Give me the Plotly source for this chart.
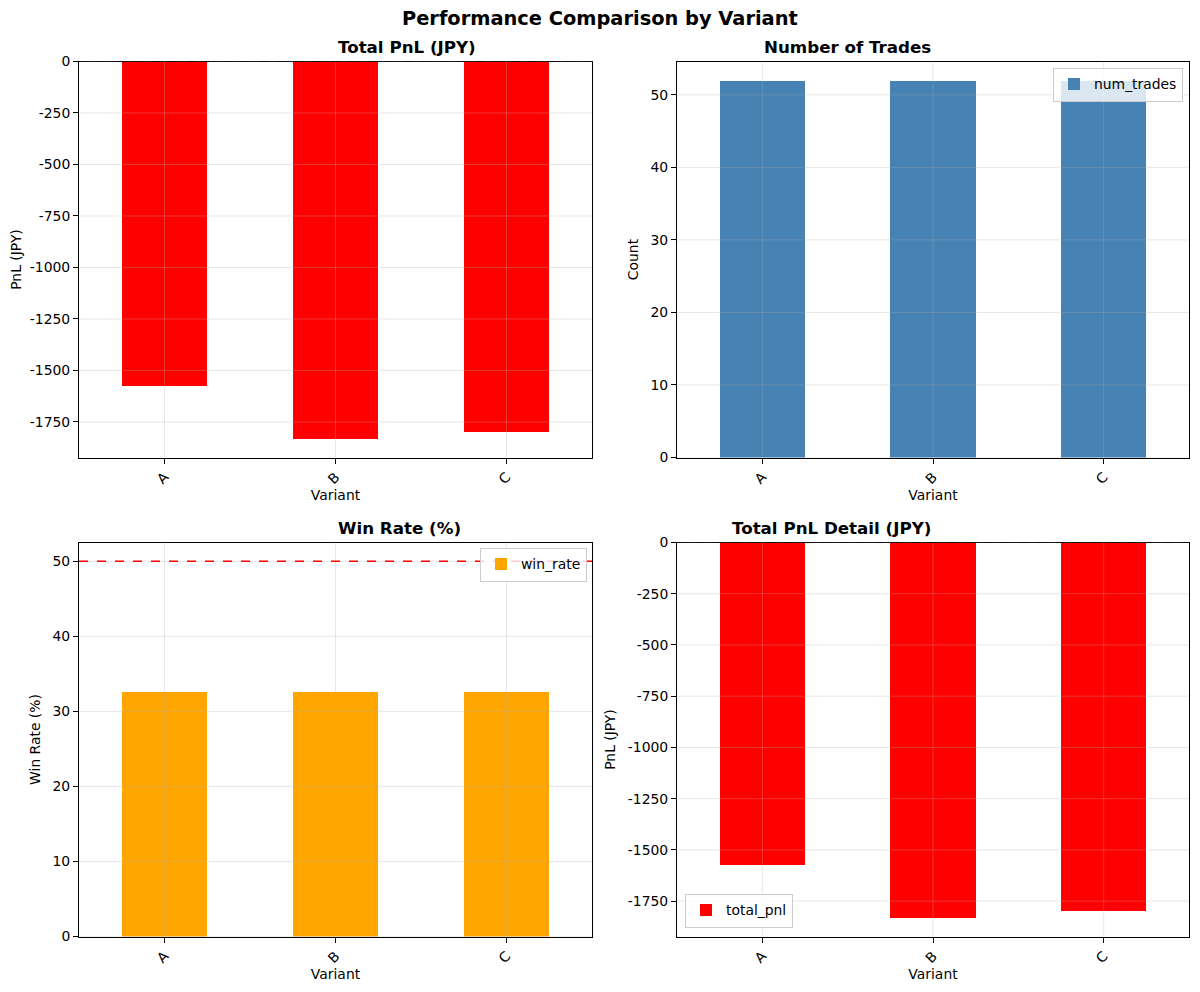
import plotly.graph_objects as go

# Data
variants = ["A", "B", "C"]
total_pnl = [-1573, -1831, -1797]
num_trades = [52, 52, 52]
win_rate = [32.7, 32.7, 32.7]
pnl_ticks = [0, -250, -500, -750, -1000, -1250, -1500, -1750]
count_ticks = [0, 10, 20, 30, 40, 50]
zero_line = 0
win_target = 50

FONT = "DejaVu Sans"
TICK = 13.9
GRID = "rgba(176,176,176,0.3)"
W, H = 1200, 992
OFF = 8  # page body margin of the browser


def px(x):
    return (x - OFF) / W


def py(y):
    return 1 - (y - OFF + 0.5) / H


fig = go.Figure()

# panel domains in paper coords (x domain, y domain)
panels = {
    1: ([px(79), px(592)], [py(457), py(61)]),
    2: ([px(677), px(1189)], [py(457), py(61)]),
    3: ([px(79), px(592)], [py(936), py(542)]),
    4: ([px(677), px(1189)], [py(936), py(542)]),
}

series = [
    (1, total_pnl, "total_pnl", "#ff0000", "legend"),
    (2, num_trades, "num_trades", "#4682b4", "legend2"),
    (3, win_rate, "win_rate", "#ffa500", "legend3"),
    (4, total_pnl, "total_pnl", "#ff0000", "legend4"),
]

for i, vals, name, color, leg in series:
    sfx = "" if i == 1 else str(i)
    fig.add_trace(go.Bar(x=variants, y=vals, name=name, marker_color=color,
                         marker_line_width=0, width=0.5,
                         xaxis="x" + sfx, yaxis="y" + sfx, legend=leg))

axis_common = dict(showline=True, mirror=True, linecolor="black", linewidth=1,
                   ticks="outside", ticklen=5, tickwidth=1, tickcolor="black",
                   showgrid=False, zeroline=False, automargin=False,
                   tickfont=dict(family=FONT, size=TICK, color="black"),
                   title_font=dict(family=FONT, size=TICK, color="black"))

yranges = {
    1: [1.05 * min(total_pnl), 0],
    2: [0, 1.05 * max(num_trades)],
    3: [0, 1.05 * win_target],
    4: [1.05 * min(total_pnl), 0],
}
ytitles = {1: "PnL (JPY)", 2: "Count", 3: "Win Rate (%)", 4: "PnL (JPY)"}
yticks = {1: pnl_ticks, 2: count_ticks, 3: count_ticks, 4: pnl_ticks}

layout = {}
for i, (xd, yd) in panels.items():
    sfx = "" if i == 1 else str(i)
    layout["xaxis" + sfx] = dict(axis_common, domain=xd, anchor="y" + sfx,
                                 type="category", range=[-0.5, 2.5],
                                 tickangle=-45, title=dict(text="Variant", standoff=2))
    layout["yaxis" + sfx] = dict(axis_common, domain=yd, anchor="x" + sfx,
                                 range=yranges[i], tickmode="array",
                                 tickvals=yticks[i],
                                 ticktext=[str(v) for v in yticks[i]],
                                 title=dict(text=ytitles[i], standoff=8))

fig.update_layout(**layout)

# grid lines drawn over the bars, as matplotlib does
for i in panels:
    sfx = "" if i == 1 else str(i)
    for v in variants:
        fig.add_shape(type="line", layer="above", xref="x" + sfx, yref="y" + sfx + " domain",
                      x0=v, x1=v, y0=0, y1=1, line=dict(color=GRID, width=1))
    for t in yticks[i]:
        fig.add_shape(type="line", layer="above", xref="x" + sfx + " domain", yref="y" + sfx,
                      x0=0, x1=1, y0=t, y1=t, line=dict(color=GRID, width=1))

legend_style = dict(bgcolor="rgba(255,255,255,0.8)", bordercolor="#cccccc",
                    borderwidth=1, font=dict(family=FONT, size=TICK, color="black"),
                    itemwidth=30, tracegroupgap=0)
fig.update_layout(
    legend=dict(legend_style, x=px(87), y=py(450), xanchor="left", yanchor="bottom"),
    legend2=dict(legend_style, x=px(1183), y=py(67), xanchor="right", yanchor="top"),
    legend3=dict(legend_style, x=px(587), y=py(547), xanchor="right", yanchor="top"),
    legend4=dict(legend_style, x=px(685), y=py(927), xanchor="left", yanchor="bottom"),
)

# reference lines
for xr, yr, yv, col, w in [("x domain", "y", zero_line, "black", 1),
                           ("x4 domain", "y4", zero_line, "black", 1),
                           ("x3 domain", "y3", win_target, "#ff0000", 1.4)]:
    fig.add_shape(type="line", layer="above", xref=xr, yref=yr, x0=0, x1=1, y0=yv, y1=yv,
                  line=dict(color=col, width=w, dash="dash"))

# titles
titles = ["Total PnL (JPY)", "Number of Trades", "Win Rate (%)", "Total PnL Detail (JPY)"]
title_y = [47, 47, 527, 527]
for i, t in enumerate(titles, start=1):
    xd = panels[i][0]
    fig.add_annotation(text="<b>%s</b>" % t, x=(xd[0] + xd[1]) / 2, y=py(title_y[i - 1]),
                       xref="paper", yref="paper", showarrow=False, yanchor="middle",
                       font=dict(family=FONT, size=16.7, color="black"))
fig.add_annotation(text="<b>Performance Comparison by Variant</b>", x=px(600), y=py(18),
                   xref="paper", yref="paper", showarrow=False, yanchor="middle",
                   font=dict(family=FONT, size=19.4, color="black"))

fig.update_layout(width=W, height=H, margin=dict(l=0, r=0, t=0, b=0),
                  plot_bgcolor="white", paper_bgcolor="white", bargap=0,
                  font=dict(family=FONT, color="black"))

fig.write_html("out.html")
